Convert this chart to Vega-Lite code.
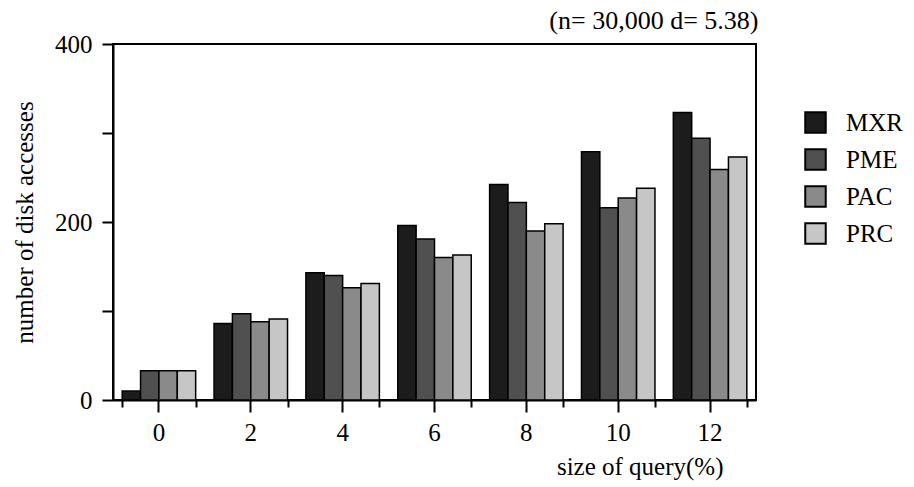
{
  "$schema": "https://vega.github.io/schema/vega-lite/v6.json",
  "autosize": "none",
  "width": 643,
  "height": 356,
  "padding": {"left": 113, "top": 44, "right": 158, "bottom": 87},
  "background": "white",
  "config": {
    "font": "Liberation Serif",
    "view": {"stroke": "black", "strokeWidth": 2},
    "axis": {"labelFont": "Liberation Serif", "titleFont": "Liberation Serif", "labelColor": "black", "titleColor": "black", "domainColor": "black", "tickColor": "black", "grid": false, "titleFontWeight": "normal"}
  },
  "data": {"values": [
    {"size": 0, "method": "MXR", "value": 10},
    {"size": 0, "method": "PME", "value": 33},
    {"size": 0, "method": "PAC", "value": 33},
    {"size": 0, "method": "PRC", "value": 33},
    {"size": 2, "method": "MXR", "value": 86},
    {"size": 2, "method": "PME", "value": 97},
    {"size": 2, "method": "PAC", "value": 88},
    {"size": 2, "method": "PRC", "value": 91},
    {"size": 4, "method": "MXR", "value": 143},
    {"size": 4, "method": "PME", "value": 140},
    {"size": 4, "method": "PAC", "value": 126},
    {"size": 4, "method": "PRC", "value": 131},
    {"size": 6, "method": "MXR", "value": 196},
    {"size": 6, "method": "PME", "value": 181},
    {"size": 6, "method": "PAC", "value": 160},
    {"size": 6, "method": "PRC", "value": 163},
    {"size": 8, "method": "MXR", "value": 242},
    {"size": 8, "method": "PME", "value": 222},
    {"size": 8, "method": "PAC", "value": 190},
    {"size": 8, "method": "PRC", "value": 198},
    {"size": 10, "method": "MXR", "value": 279},
    {"size": 10, "method": "PME", "value": 216},
    {"size": 10, "method": "PAC", "value": 227},
    {"size": 10, "method": "PRC", "value": 238},
    {"size": 12, "method": "MXR", "value": 323},
    {"size": 12, "method": "PME", "value": 294},
    {"size": 12, "method": "PAC", "value": 259},
    {"size": 12, "method": "PRC", "value": 273}
  ]},
  "resolve": {"axis": {"x": "independent"}},
  "layer": [
    {
      "mark": {"type": "bar", "stroke": "black", "strokeWidth": 1.5},
      "encoding": {
        "x": {"field": "size", "type": "ordinal",
          "scale": {"paddingInner": 0.2, "paddingOuter": 0.1},
          "axis": {"orient": "bottom", "title": "size of query(%)", "labelAngle": 0, "labelFontSize": 25, "titleFontSize": 25, "tickSize": 12, "tickWidth": 2, "domainWidth": 2, "labelPadding": 8, "titleAnchor": "end", "titleAlign": "right", "titleX": 610, "titlePadding": 9}},
        "xOffset": {"field": "method", "type": "nominal", "sort": ["MXR", "PME", "PAC", "PRC"], "scale": {"paddingInner": 0, "paddingOuter": 0}},
        "y": {"field": "value", "type": "quantitative",
          "scale": {"domain": [0, 400], "nice": false},
          "axis": {"title": "number of disk accesses", "values": [0, 100, 200, 300, 400], "labelExpr": "datum.value % 200 === 0 ? datum.label : ''", "labelFontSize": 25, "titleFontSize": 25, "tickSize": 11, "tickWidth": 2, "domainWidth": 2, "labelPadding": 10, "titlePadding": 17}},
        "color": {"field": "method", "type": "nominal",
          "scale": {"domain": ["MXR", "PME", "PAC", "PRC"], "range": ["#1c1c1c", "#505050", "#8a8a8a", "#c6c6c6"]},
          "legend": {"title": null, "orient": "none", "legendX": 690, "legendY": 66, "symbolType": "square", "symbolSize": 420, "symbolStrokeColor": "black", "symbolStrokeWidth": 2, "symbolOpacity": 1, "labelFontSize": 25, "labelFont": "Liberation Serif", "labelColor": "black", "labelOffset": 18, "rowPadding": 8}}
      }
    },
    {
      "mark": {"type": "bar", "opacity": 0},
      "encoding": {
        "x": {"field": "size", "type": "ordinal",
          "axis": {"orient": "bottom", "title": null, "labels": false, "domain": false, "tickBand": "extent", "tickSize": 7, "tickWidth": 2}},
        "y": {"field": "value", "type": "quantitative"}
      }
    },
    {
      "mark": {"type": "bar", "opacity": 0},
      "encoding": {
        "x": {"field": "size", "type": "ordinal",
          "axis": {"orient": "top", "title": "(n= 30,000  d= 5.38)", "titleFontSize": 26, "labels": false, "domain": false, "ticks": false, "titleAnchor": null, "titleAlign": "right", "titleX": 645, "titleY": -16, "titleBaseline": "alphabetic"}},
        "y": {"field": "value", "type": "quantitative"}
      }
    }
  ]
}
